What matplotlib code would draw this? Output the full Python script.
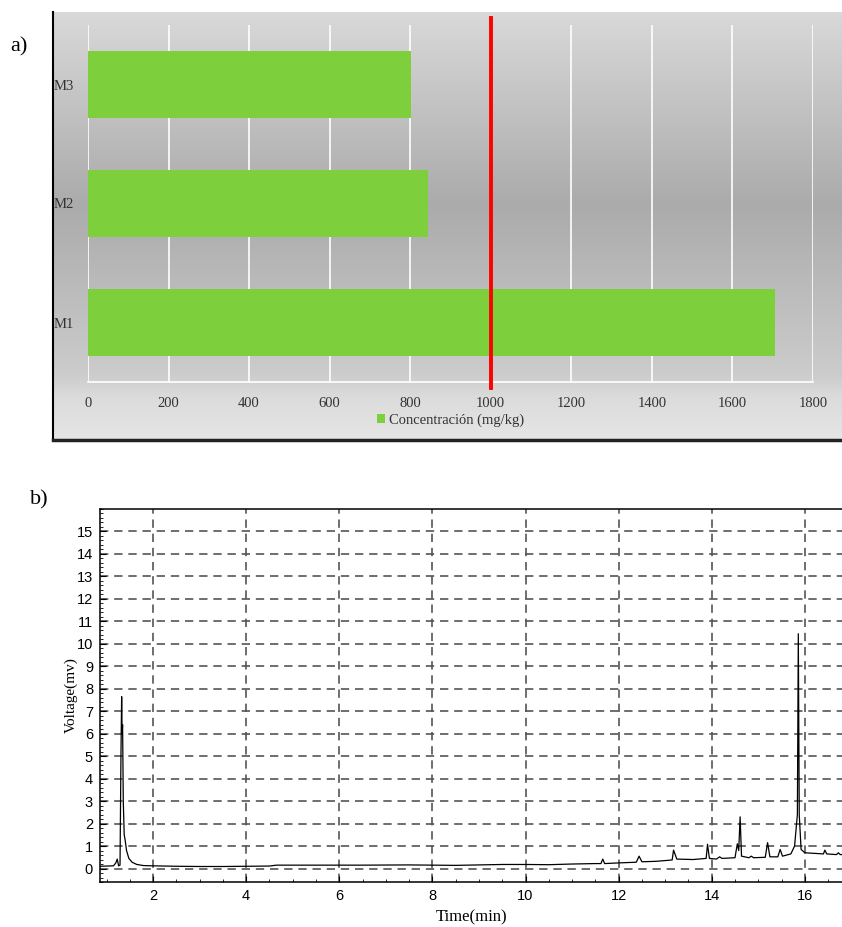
import numpy as np
import matplotlib
matplotlib.use("Agg")
import matplotlib.pyplot as plt
from matplotlib.ticker import MultipleLocator

# a) concentration per sample
samples = ["M1", "M2", "M3"]
concentration = [1705, 845, 802]
limit = 1000
conc_ticks = [0, 200, 400, 600, 800, 1000, 1200, 1400, 1600, 1800]

# b) chromatogram
time_min = [0.86, 1.15, 1.20, 1.23, 1.26, 1.29, 1.31, 1.325, 1.335, 1.345,
            1.36, 1.38, 1.40, 1.43, 1.48, 1.55, 1.65, 1.80, 2.0, 2.5,
            3.0, 3.5, 4.0, 4.5, 4.65, 5.5, 6.5, 7.5, 8.5, 9.5,
            10.0, 10.5, 11.0, 11.5, 11.62, 11.66, 11.70, 12.0, 12.38, 12.44,
            12.50, 12.8, 13.15, 13.18, 13.25, 13.6, 13.88, 13.91, 13.95, 14.1,
            14.17, 14.22, 14.5, 14.55, 14.58, 14.61, 14.64, 14.8, 14.85, 14.9,
            15.15, 15.2, 15.25, 15.42, 15.47, 15.52, 15.7, 15.78, 15.84, 15.86,
            15.88, 15.92, 16.0, 16.4, 16.43, 16.47, 16.68, 16.72, 16.76, 16.82]
voltage = [0.10, 0.12, 0.25, 0.42, 0.12, 0.15, 5.0, 7.65, 6.0, 6.4,
           3.0, 1.5, 1.27, 0.8, 0.45, 0.28, 0.18, 0.13, 0.12, 0.10,
           0.09, 0.09, 0.10, 0.11, 0.15, 0.15, 0.15, 0.16, 0.14, 0.18,
           0.18, 0.17, 0.20, 0.22, 0.22, 0.42, 0.22, 0.25, 0.28, 0.55,
           0.30, 0.32, 0.38, 0.82, 0.42, 0.40, 0.45, 1.08, 0.45, 0.42,
           0.52, 0.45, 0.48, 1.10, 0.80, 2.30, 0.55, 0.48, 0.55, 0.48,
           0.50, 1.15, 0.52, 0.52, 0.85, 0.55, 0.65, 1.00, 2.40, 10.45,
           2.40, 0.85, 0.70, 0.65, 0.82, 0.65, 0.62, 0.70, 0.62, 0.62]

W, H = 842, 927
fig = plt.figure(figsize=(W / 100, H / 100), dpi=100)


def box(x0, y0, x1, y1):
    """pixel box (top-left origin) -> figure rect"""
    return [x0 / W, 1 - y1 / H, (x1 - x0) / W, (y1 - y0) / H]


# ---- panel a: grey gradient frame like the spreadsheet chart
bg = fig.add_axes(box(53, 12, 842, 440))
stops_y = [0.0, 0.45, 0.85, 0.9, 1.0]
stops_g = [0.85, 0.67, 0.80, 0.86, 0.90]
g = np.interp(np.linspace(0, 1, 200), stops_y, stops_g)
bg.imshow(np.dstack([g, g, g])[:, None, :].reshape(200, 1, 3), aspect="auto",
          extent=[0, 1, 0, 1])
bg.set_xticks([])
bg.set_yticks([])
for s in ["top", "right"]:
    bg.spines[s].set_visible(False)
bg.spines["left"].set_linewidth(1.5)
bg.spines["bottom"].set_linewidth(2.5)
bg.spines["bottom"].set_color("#222222")

ax1 = fig.add_axes(box(88, 25, 813, 382))
ax1.set_facecolor("none")
bars = ax1.barh(range(len(samples)), concentration, height=0.57,
                color="#7dd03c", label="Concentración (mg/kg)", zorder=2)
ax1.set_xlim(0, 1800)
ax1.set_ylim(-0.5, 2.5)
ax1.set_xticks(conc_ticks)
ax1.set_yticks(range(len(samples)))
ax1.set_yticklabels(samples)
ax1.grid(axis="x", color="white", lw=1.2, zorder=1)
for s in ["top", "right", "left"]:
    ax1.spines[s].set_visible(False)
ax1.spines["bottom"].set_color("white")
ax1.spines["bottom"].set_linewidth(1.2)
ax1.tick_params(length=0, labelsize=10.5, labelcolor="#333333")
ax1.tick_params(axis="y", pad=10)
ax1.tick_params(axis="x", pad=11)
for lab in ax1.get_xticklabels() + ax1.get_yticklabels():
    lab.set_family("Liberation Serif")
ax1.axvline(limit, ymin=-0.017, ymax=1.02, color="red", lw=2.8,
            clip_on=False, zorder=3)
leg = ax1.legend(loc="center", bbox_to_anchor=(0.5, -0.107), frameon=False,
                 handlelength=0.55, handleheight=0.55, handletextpad=0.3,
                 prop={"family": "Liberation Serif", "size": 10.5})
for t in leg.get_texts():
    t.set_color("#333333")

fig.text(10 / W, 1 - 47 / H, "a)", family="Liberation Serif", fontsize=16,
         va="center")

# ---- panel b: chromatogram
ax2 = fig.add_axes(box(100, 509, 843, 882))
ax2.plot(time_min, voltage, color="black", lw=0.9, zorder=3)
ax2.set_xlim(0.86, 16.82)
ax2.set_ylim(-0.6, 16)
ax2.xaxis.set_major_locator(MultipleLocator(2))
ax2.xaxis.set_minor_locator(MultipleLocator(0.5))
ax2.yaxis.set_major_locator(MultipleLocator(1))
ax2.yaxis.set_minor_locator(MultipleLocator(0.2))
ax2.set_yticks(range(0, 16))
ax2.grid(which="major", color="#555555", ls=(0, (5, 3.5)), lw=1.2)
ax2.tick_params(which="both", direction="in", labelsize=10.5)
ax2.tick_params(which="major", length=4, pad=5)
ax2.tick_params(which="minor", length=2)
for lab in ax2.get_xticklabels() + ax2.get_yticklabels():
    lab.set_family("Liberation Sans")
for s in ax2.spines.values():
    s.set_linewidth(1.1)
ax2.set_ylabel("Voltage(mv)", family="Liberation Serif", fontsize=11,
               labelpad=-1)
ax2.set_xlabel("Time(min)", family="Liberation Serif", fontsize=12,
               labelpad=5)

fig.text(30 / W, 1 - 500 / H, "b)", family="Liberation Serif", fontsize=16,
         va="center")

fig.savefig("out.png", dpi=100)
